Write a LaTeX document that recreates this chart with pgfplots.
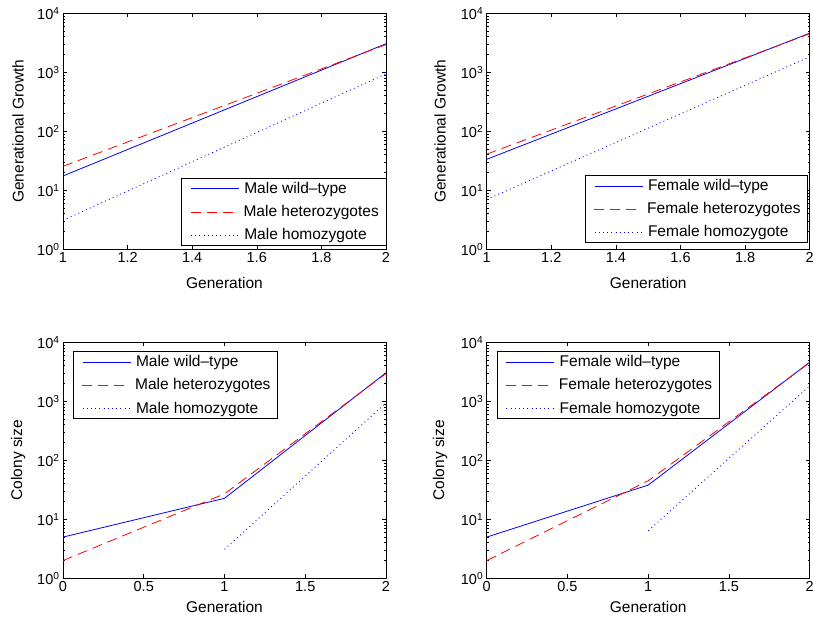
\documentclass[border=0pt]{standalone}
\usepackage{fontspec}
\setmainfont{Liberation Sans}
\usepackage{pgfplots}
\pgfplotsset{compat=1.18}
\definecolor{mblue}{RGB}{0,0,255}
\definecolor{mred}{RGB}{255,0,0}
\tikzset{
  wtline/.style={color=mblue, solid, line width=0.8pt},
  hetline/.style={color=mred, dash pattern=on 10pt off 6pt, line width=0.8pt},
  homline/.style={color=mblue, dash pattern=on 1pt off 3.2pt, line width=0.8pt},
}
\newcommand{\lwt}{\hspace*{7pt}\textcolor{mblue}{\tikz[baseline=-0.55ex]{\draw[line width=0.8pt] (0pt,0pt) -- (48pt,0pt);}}\hspace*{5pt}}
\newcommand{\hdash}{\rule[\dimexpr0.286em-0.4pt\relax]{10pt}{0.8pt}}
\newcommand{\lhet}{\hspace*{7pt}{\color{mred}\hdash\hspace*{6pt}\hdash\hspace*{6pt}\hdash\hspace*{6pt}}\hspace*{5pt}}
\newcommand{\lhom}{\hspace*{7pt}\textcolor{mblue}{\tikz[baseline=-0.55ex]{\draw[line width=0.8pt, dash pattern=on 1pt off 3.2pt] (0pt,0pt) -- (48pt,0pt);}}\hspace*{5pt}}
\pgfplotsset{
  mstyle/.style={
    scale only axis,
    width=323pt, height=236pt,
    ymin=1, ymax=10000,
    ytick={1,10,100,1000,10000},
    yticklabels={10\textsuperscript{0},10\textsuperscript{1},10\textsuperscript{2},10\textsuperscript{3},10\textsuperscript{4}},
    minor ytick={2,3,4,5,6,7,8,9,20,30,40,50,60,70,80,90,200,300,400,500,600,700,800,900,2000,3000,4000,5000,6000,7000,8000,9000},
    tick align=inside, tick pos=both,
    major tick length=4pt, minor tick length=2.2pt,
    axis line style={line width=0.8pt},
    every tick/.style={black, line width=0.6pt},
    tick label style={font=\fontsize{14.5}{17}\selectfont},
    /pgf/number format/assume math mode=true,
    label style={font=\fontsize{15.5}{18}\selectfont},
    xlabel={Generation},
    legend cell align=left,
    legend image code/.code={},
    legend style={font=\fontsize{15.5}{18}\selectfont, inner xsep=0pt, inner ysep=2pt, row sep=6.5pt, column sep=0pt},
  },
}
\begin{document}
\begin{tikzpicture}
\useasboundingbox (0pt,0pt) rectangle (813pt,-624pt);
% Top-left
\begin{semilogyaxis}[mstyle, at={(63pt,-249.3pt)}, anchor=south west,
  xmin=1, xmax=2, xtick={1,1.2,1.4,1.6,1.8,2},
  xticklabels={1,1.2,1.4,1.6,1.8,2},
  ylabel={Generational Growth},
  xlabel style={at={(axis description cs:0.5,-0.144)}, anchor=center},
  ylabel style={at={(axis description cs:-0.139,0.5)}, anchor=center},
  legend style={at={(1,0.017)}, anchor=south east}]
\addplot[wtline] coordinates {(1,17.5) (2,3050)};
\addplot[hetline] coordinates {(1,25.5) (2,2950)};
\addplot[homline] coordinates {(1,3.1) (2,940)};
\legend{{\lwt Male wild--type\hspace*{5pt}}, {\lhet Male heterozygotes\hspace*{5pt}}, {\lhom Male homozygote\hspace*{5pt}}}
\end{semilogyaxis}
% Top-right
\begin{semilogyaxis}[mstyle, at={(486.7pt,-249.3pt)}, anchor=south west,
  xmin=1, xmax=2, xtick={1,1.2,1.4,1.6,1.8,2},
  xticklabels={1,1.2,1.4,1.6,1.8,2},
  ylabel={Generational Growth},
  xlabel style={at={(axis description cs:0.5,-0.144)}, anchor=center},
  ylabel style={at={(axis description cs:-0.144,0.5)}, anchor=center},
  legend style={at={(0.994,0.028)}, anchor=south east}]
\addplot[wtline] coordinates {(1,33.5) (2,4600)};
\addplot[hetline] coordinates {(1,41) (2,4500)};
\addplot[homline] coordinates {(1,7.0) (2,1830)};
\legend{{\lwt Female wild--type\hspace*{5pt}}, {\lhet Female heterozygotes\hspace*{5pt}}, {\lhom Female homozygote\hspace*{5pt}}}
\end{semilogyaxis}
% Bottom-left
\begin{semilogyaxis}[mstyle, at={(63pt,-578.3pt)}, anchor=south west,
  xmin=0, xmax=2, xtick={0,0.5,1,1.5,2},
  xticklabels={0,0.5,1,1.5,2},
  ylabel={Colony size},
  xlabel style={at={(axis description cs:0.5,-0.12)}, anchor=center},
  ylabel style={at={(axis description cs:-0.139,0.5)}, anchor=center},
  legend style={at={(0.031,0.962)}, anchor=north west}]
\addplot[wtline] coordinates {(0,5) (1,22.7) (2,3050)};
\addplot[hetline] coordinates {(0,2) (1,27) (2,2950)};
\addplot[homline] coordinates {(1,3.1) (2,940)};
\legend{{\lwt Male wild--type\hspace*{5pt}}, {\lhet Male heterozygotes\hspace*{5pt}}, {\lhom Male homozygote\hspace*{5pt}}}
\end{semilogyaxis}
% Bottom-right
\begin{semilogyaxis}[mstyle, at={(486.7pt,-578.3pt)}, anchor=south west,
  xmin=0, xmax=2, xtick={0,0.5,1,1.5,2},
  xticklabels={0,0.5,1,1.5,2},
  ylabel={Colony size},
  xlabel style={at={(axis description cs:0.5,-0.12)}, anchor=center},
  ylabel style={at={(axis description cs:-0.144,0.5)}, anchor=center},
  legend style={at={(0.031,0.962)}, anchor=north west}]
\addplot[wtline] coordinates {(0,5) (1,38) (2,4600)};
\addplot[hetline] coordinates {(0,2) (1,45) (2,4500)};
\addplot[homline] coordinates {(1,6.4) (2,1830)};
\legend{{\lwt Female wild--type\hspace*{5pt}}, {\lhet Female heterozygotes\hspace*{5pt}}, {\lhom Female homozygote\hspace*{5pt}}}
\end{semilogyaxis}
\end{tikzpicture}
\end{document}
